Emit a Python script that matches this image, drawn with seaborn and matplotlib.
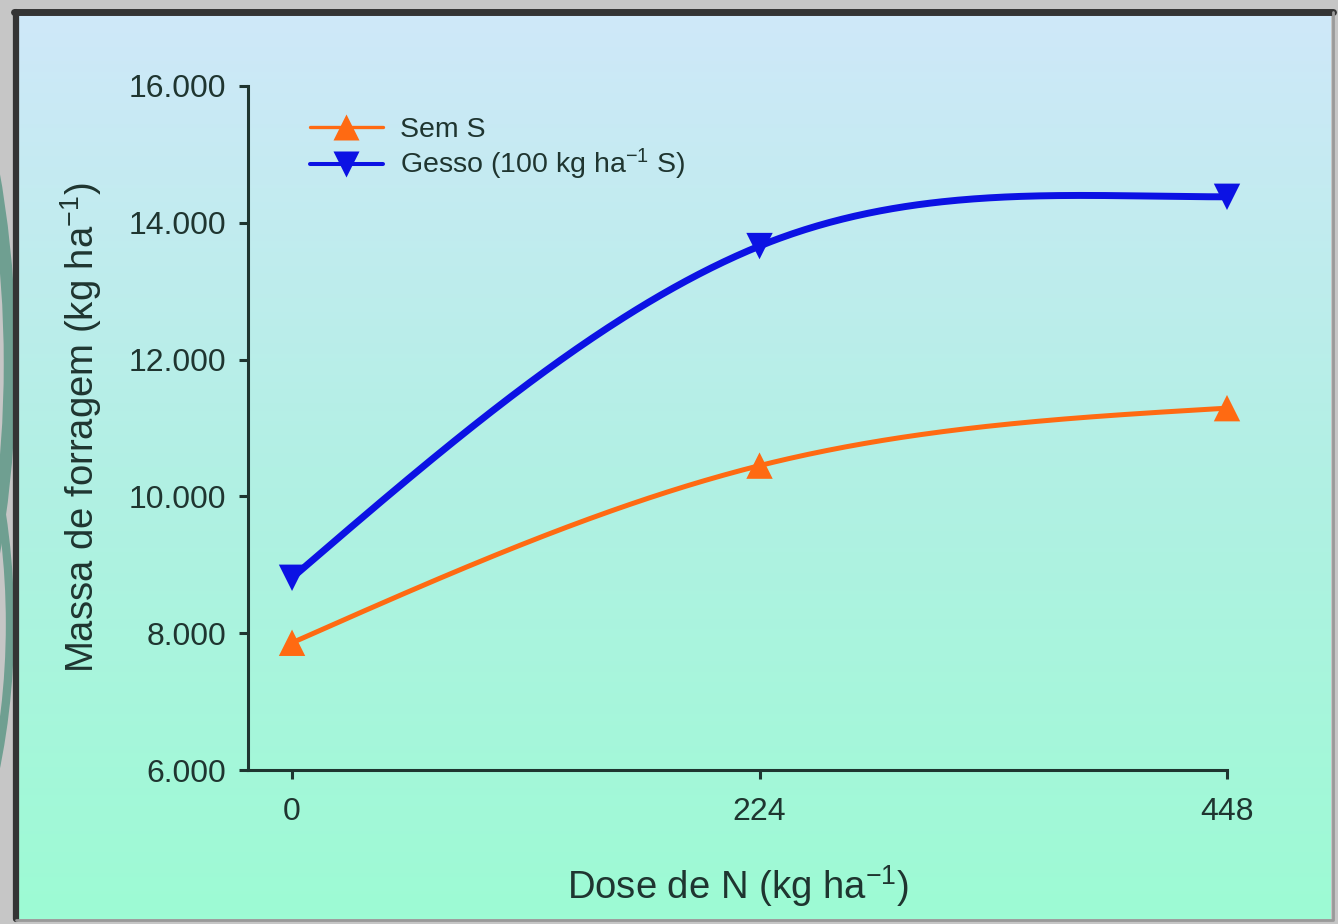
import numpy as np
import pandas as pd
import matplotlib
matplotlib.use("Agg")
import matplotlib.pyplot as plt
from matplotlib.lines import Line2D
from matplotlib.patches import Ellipse
from matplotlib.colors import LinearSegmentedColormap
import seaborn as sns

# ---- data -------------------------------------------------------------
dose_n = [0, 224, 448]                      # kg ha-1 of N
sem_s = [7860, 10450, 11290]                # forage mass, no sulfur
gesso = [8810, 13660, 14380]                # forage mass, gypsum (100 kg ha-1 S)
series_names = ["Sem S", "Gesso (100 kg ha$^{-1}$ S)"]
y_ticks = [6000, 8000, 10000, 12000, 14000, 16000]
x_ticks = [0, 224, 448]

# ---- style ------------------------------------------------------------
sns.set_theme(style="white")
plt.rcParams["font.family"] = ["Liberation Sans", "DejaVu Sans"]
plt.rcParams["mathtext.fontset"] = "custom"
plt.rcParams["mathtext.rm"] = "Liberation Sans"
plt.rcParams["mathtext.default"] = "regular"

TXT = "#1f3530"
ORANGE = "#ff6a12"
BLUE = "#0c12e4"


def smooth_curve(x, y, n=300):
    """Cubic Hermite curve through the points (smoothed line)."""
    x = np.asarray(x, float)
    y = np.asarray(y, float)
    d = np.diff(y) / np.diff(x)
    m = np.zeros_like(y)
    m[1:-1] = (y[2:] - y[:-2]) / (x[2:] - x[:-2])
    m[0] = 1.5 * d[0] - 0.5 * m[1]
    m[-1] = max(0.0, 1.5 * d[-1] - 0.5 * m[-2])
    xs = np.linspace(x[0], x[-1], n)
    ys = np.empty_like(xs)
    for i in range(len(x) - 1):
        sel = (xs >= x[i]) & (xs <= x[i + 1])
        h = x[i + 1] - x[i]
        t = (xs[sel] - x[i]) / h
        h00 = 2 * t**3 - 3 * t**2 + 1
        h10 = t**3 - 2 * t**2 + t
        h01 = -2 * t**3 + 3 * t**2
        h11 = t**3 - t**2
        ys[sel] = h00 * y[i] + h10 * h * m[i] + h01 * y[i + 1] + h11 * h * m[i + 1]
    return xs, ys


W, H = 1338, 924
fig = plt.figure(figsize=(W / 100, H / 100), dpi=100)
fig.patch.set_facecolor("#c6c6c6")

# decorative teal bands along the left margin
for cx, cy, ew, eh, lw in [(-560, 560, 1140, 1600, 9), (-260, 300, 540, 900, 6)]:
    fig.add_artist(Ellipse((cx / W, cy / H), ew / W, eh / H, transform=fig.transFigure,
                           facecolor="none", edgecolor="#6f9f91", lw=lw, zorder=-5))

# gradient panel
bg = fig.add_axes([19 / W, 5 / H, 1312 / W, 904 / H], zorder=-2)
cmap = LinearSegmentedColormap.from_list(
    "panel", [(0.0, "#9dfbd4"), (0.5, "#b2f0e4"), (1.0, "#cfe8f9")])
grad = np.linspace(0, 1, 256).reshape(-1, 1)
bg.imshow(grad, aspect="auto", cmap=cmap, origin="lower", extent=[0, 1, 0, 1])
bg.set_axis_off()

# frame: dark on top/left, lighter on right/bottom
fig.add_artist(Line2D([16 / W, 16 / W], [5 / H, 912 / H], transform=fig.transFigure,
                      color="#343434", lw=4.5))
fig.add_artist(Line2D([14 / W, 1333 / W], [912 / H, 912 / H], transform=fig.transFigure,
                      color="#343434", lw=5))
fig.add_artist(Line2D([1333 / W, 1333 / W], [5 / H, 912 / H], transform=fig.transFigure,
                      color="#9a9a9a", lw=2))
fig.add_artist(Line2D([16 / W, 1333 / W], [4 / H, 4 / H], transform=fig.transFigure,
                      color="#9a9a9a", lw=2))

# ---- main axes ----------------------------------------------------------
ax = fig.add_axes([248 / W, (H - 770) / H, (1227 - 248) / W, (770 - 86) / H])
ax.patch.set_alpha(0)

for vals, color, lw, mk in [(sem_s, ORANGE, 3.6, "^"), (gesso, BLUE, 5.0, "v")]:
    xs, ys = smooth_curve(dose_n, vals)
    sns.lineplot(x=xs, y=ys, color=color, lw=lw, ax=ax, zorder=3)
    sns.scatterplot(x=dose_n, y=vals, marker=mk, s=19**2, color=color,
                    edgecolor="none", linewidth=0, ax=ax, zorder=4, clip_on=False)

ax.set_xlim(-21.1, 448)
ax.set_ylim(6000, 16000)
ax.set_xticks(x_ticks)
ax.set_xticklabels([str(v) for v in x_ticks])
ax.set_yticks(y_ticks)
ax.set_yticklabels([f"{v:,}".replace(",", ".") for v in y_ticks])

for side in ["top", "right"]:
    ax.spines[side].set_visible(False)
for side in ["left", "bottom"]:
    ax.spines[side].set_color(TXT)
    ax.spines[side].set_linewidth(2.2)

ax.tick_params(axis="y", direction="out", length=6.5, width=2.2, color=TXT,
               labelcolor=TXT, labelsize=23, pad=9, left=True)
ax.tick_params(axis="x", direction="out", length=6.5, width=2.2, color=TXT,
               labelcolor=TXT, labelsize=23, pad=13, bottom=True)

ax.set_xlabel("Dose de N (kg ha$^{-1}$)", fontsize=27.5, color=TXT, labelpad=26)
ax.set_ylabel("Massa de forragem (kg ha$^{-1}$)", fontsize=27.5, color=TXT, labelpad=18)

handles = [
    Line2D([], [], color=ORANGE, lw=2.4, marker="^", ms=19, mec="none"),
    Line2D([], [], color=BLUE, lw=2.9, marker="v", ms=19, mec="none"),
]
leg = ax.legend(handles, series_names, loc="upper left",
                bbox_to_anchor=((310 - 248) / 979, (770 - 117) / 684),
                frameon=False, fontsize=20.5, handlelength=2.55,
                handletextpad=0.6, labelspacing=0.15, borderpad=0,
                borderaxespad=0)
for t in leg.get_texts():
    t.set_color(TXT)

fig.savefig("out.png", dpi=100, facecolor=fig.get_facecolor())
